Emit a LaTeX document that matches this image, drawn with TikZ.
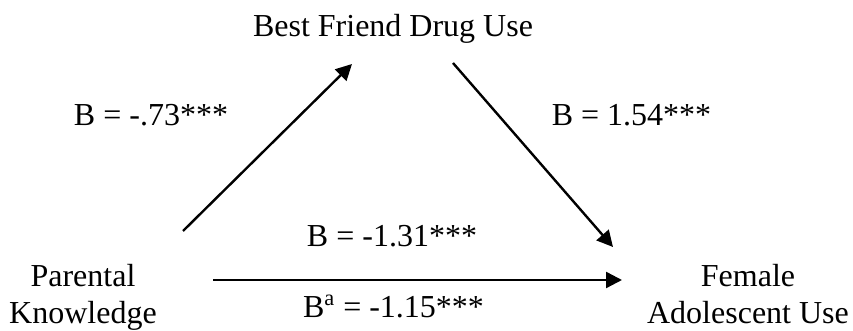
\documentclass[tikz,border=0pt]{standalone}
\usepackage{fontspec}
\setmainfont{Liberation Serif}
\usetikzlibrary{arrows.meta}

\begin{document}
\begin{tikzpicture}[x=0.5pt,y=-0.5pt,>={Triangle[length=8pt,width=8pt]},
  var/.style={align=center,font=\fontsize{16}{18.5}\selectfont,inner sep=0pt,anchor=base},
  coef/.style={font=\fontsize{16}{18.5}\selectfont,inner sep=0pt,anchor=base},
  effect/.style={->,line width=1.2pt}]
\useasboundingbox (0,0) rectangle (853,331);
% variables
\node[var] (bfdu) at (393,37) {Best Friend Drug Use};
\node[var] (pk) at (83,324) {Parental\\Knowledge};
\node[var] (fau) at (748,324) {Female\\Adolescent Use};
% arrow ends
\coordinate (pk-a) at (183,231);
\coordinate (bfdu-a) at (352,64);
\coordinate (bfdu-b) at (453,63);
\coordinate (fau-a) at (613,247);
\coordinate (pk-b) at (213,280);
\coordinate (fau-b) at (622,280);
\draw[effect] (pk-a)--(bfdu-a);
\draw[effect] (bfdu-b)--(fau-a);
\draw[effect] (pk-b)--(fau-b);
% coefficients
\node[coef] (b-a) at (151,126) {B = -.73***};
\node[coef] (b-b) at (631.5,126) {B = 1.54***};
\node[coef] (b-c) at (392,247) {B = -1.31***};
\node[coef] (b-cp) at (393.5,318) {B\textsuperscript{a} = -1.15***};
\end{tikzpicture}
\end{document}
